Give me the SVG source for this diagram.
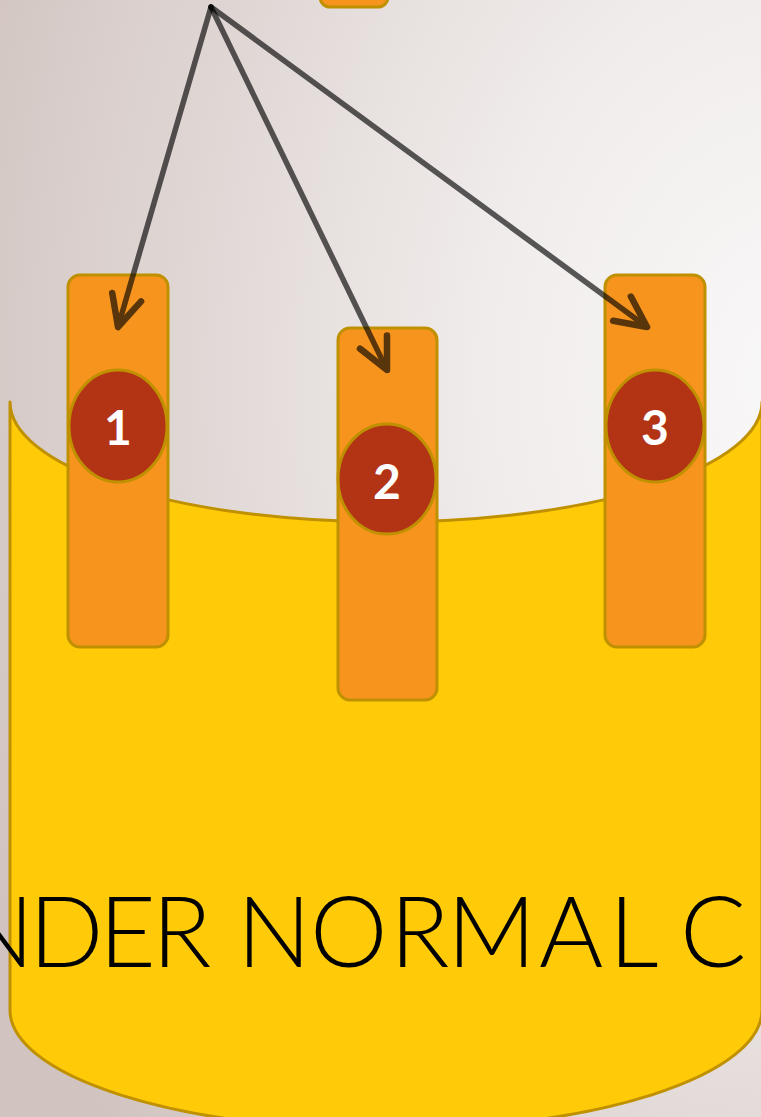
<svg xmlns="http://www.w3.org/2000/svg" width="761" height="1117" viewBox="0 0 761 1117">
  <defs>
    <radialGradient id="bg" gradientUnits="userSpaceOnUse" cx="790" cy="380" r="880" gradientTransform="translate(790 380) scale(1 1.35) translate(-790 -380)">
      <stop offset="0" stop-color="#F9F8F8"/>
      <stop offset="0.35" stop-color="#F0ECEB"/>
      <stop offset="1" stop-color="#D1C4C0"/>
    </radialGradient>
    <marker id="head" markerUnits="userSpaceOnUse" markerWidth="80" markerHeight="80" refX="0" refY="0" orient="auto" overflow="visible">
      <path d="M-31,-15 L0,0 L-31,15" fill="none" stroke="#000" stroke-width="6.5" stroke-linecap="round" stroke-linejoin="round"/>
    </marker>
    <style>
      .bar { fill: #F7941D; stroke: #BF9000; stroke-width: 3; }
      .badge { fill: #B33415; stroke: #BF9000; stroke-width: 3; }
      .num { fill: #FFFFFF; font-family: Lato, "Liberation Sans", sans-serif; font-weight: 700; font-size: 48px; text-anchor: middle; }
      .link { fill: none; stroke: #000; stroke-width: 5.5; stroke-linecap: round; opacity: 0.64; marker-end: url(#head); }
      .caption { fill: #000; font-family: Lato, "Liberation Sans", sans-serif; font-weight: 300; font-size: 98px; }
    </style>
  </defs>

  <rect x="0" y="0" width="761" height="1117" fill="url(#bg)"/>

  <!-- container drum -->
  <g id="drum">
    <path d="M10,402 A376,120 0 0,0 762,402 L762,1010 A376,120 0 0,1 10,1010 Z" fill="#FFCA08" stroke="#BF9000" stroke-width="3" stroke-linejoin="round"/>
    <text class="caption" x="-40 29 99 152 210 237 310 390 447 539 609 660 680" y="967">NDER NORMAL C</text>
  </g>

  <!-- source node at the top edge -->
  <g id="source">
    <rect class="bar" x="320" y="-60" width="68" height="67" rx="10"/>
  </g>

  <g id="item1">
    <rect class="bar" x="68" y="275" width="100" height="372" rx="12"/>
    <ellipse class="badge" cx="118" cy="426" rx="49" ry="56"/>
    <text class="num" x="118" y="445">1</text>
  </g>

  <g id="item2">
    <rect class="bar" x="338" y="328" width="99" height="372" rx="12"/>
    <ellipse class="badge" cx="387" cy="479" rx="49" ry="55"/>
    <text class="num" x="387" y="499">2</text>
  </g>

  <g id="item3">
    <rect class="bar" x="605" y="275" width="100" height="372" rx="12"/>
    <ellipse class="badge" cx="655" cy="426" rx="49" ry="56"/>
    <text class="num" x="655" y="445">3</text>
  </g>

  <g id="connectors">
    <path class="link" d="M211,7 L118,327"/>
    <path class="link" d="M211,7 L387,370"/>
    <path class="link" d="M211,7 L647,327"/>
  </g>
</svg>
